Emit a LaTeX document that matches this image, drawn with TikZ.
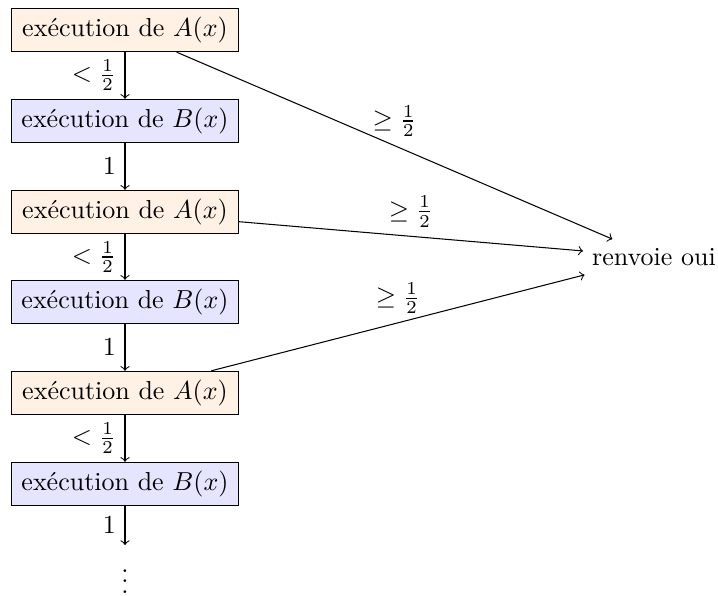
\documentclass[tikz,border=0pt]{standalone}
\usepackage{fontspec}
\begin{document}
\begin{tikzpicture}[x=0.3846pt,y=-0.3846pt,
  boxa/.style={draw=black, fill=orange!10, line width=0.4pt, inner xsep=4pt},
  boxb/.style={draw=black, fill=blue!10, line width=0.4pt, inner xsep=4pt},
  flow/.style={->, line width=0.4pt}]
\useasboundingbox (0,0) rectangle (718,596);
\node[boxa] (a1) at (125,30) {exécution de $A(x)$};
\node[boxb] (b1) at (125,121) {exécution de $B(x)$};
\node[boxa] (a2) at (125,212) {exécution de $A(x)$};
\node[boxb] (b2) at (125,302) {exécution de $B(x)$};
\node[boxa] (a3) at (125,393) {exécution de $A(x)$};
\node[boxb] (b3) at (125,484) {exécution de $B(x)$};
\node[anchor=north] (dots) at (125,545) {$\vdots$};
\node (oui) at (654,257) {renvoie oui};
\draw[flow] (a1) -- node[left] {$<\frac{1}{2}$} (b1);
\draw[flow] (b1) -- node[left] {$1$} (a2);
\draw[flow] (a2) -- node[left] {$<\frac{1}{2}$} (b2);
\draw[flow] (b2) -- node[left] {$1$} (a3);
\draw[flow] (a3) -- node[left] {$<\frac{1}{2}$} (b3);
\draw[flow] (b3) -- node[left] {$1$} (dots);
\draw[flow] (a1) -- node[above] {$\geq\frac{1}{2}$} (oui);
\draw[flow] (a2) -- node[above] {$\geq\frac{1}{2}$} (oui);
\draw[flow] (a3) -- node[above] {$\geq\frac{1}{2}$} (oui);
\end{tikzpicture}
\end{document}
